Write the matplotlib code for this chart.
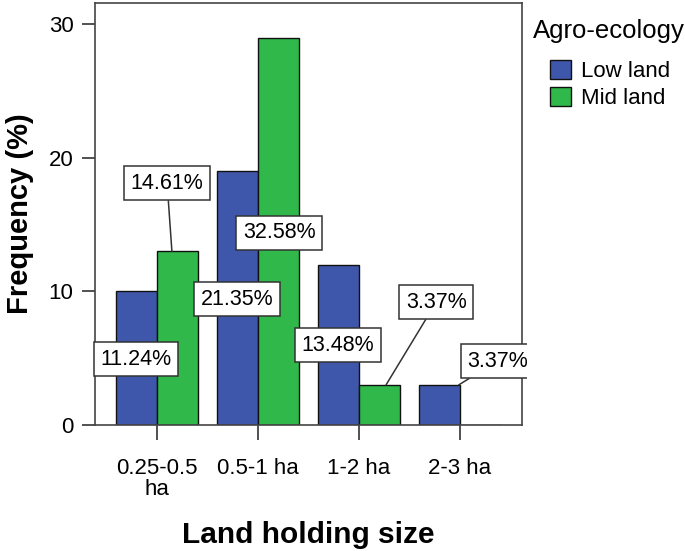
import matplotlib
matplotlib.use("Agg")
import matplotlib.pyplot as plt
import numpy as np
from matplotlib.transforms import Bbox, TransformedBbox

plt.rcParams['font.family'] = ['Liberation Sans', 'DejaVu Sans']

categories = ["0.25-0.5\nha", "0.5-1 ha", "1-2 ha", "2-3 ha"]
series_names = ["Low land", "Mid land"]
legend_title = "Agro-ecology"
low_land = [10, 19, 12, 3]
mid_land = [13, 29, 3, 0]
colors = ["#3f57aa", "#30b84a"]

# labels: (series index, category index, text, box x, box y, leader end x-offset or None)
labels = [
    (0, 0, "11.24%", -0.205, 4.94, None),
    (1, 0, "14.61%", 0.10, 18.1, -0.055),
    (0, 1, "21.35%", 0.79, 9.42, None),
    (1, 1, "32.58%", 1.21, 14.4, None),
    (0, 2, "13.48%", 1.79, 5.98, None),
    (1, 2, "3.37%", 2.765, 9.2, 0.065),
    (0, 3, "3.37%", 3.37, 4.79, 0.19),
]

W, H = 685, 551
fig = plt.figure(figsize=(W / 100, H / 100), dpi=100)
ax = fig.add_axes([95 / W, 1 - 425 / H, (522 - 95) / W, (425 - 3) / H])

x = np.arange(len(categories))
bw = 0.405
values = [low_land, mid_land]
for i, (vals, c, name) in enumerate(zip(values, colors, series_names)):
    ax.bar(x + (i - 0.5) * bw, vals, width=bw, color=c, edgecolor="#111111",
           linewidth=1.0, label=name, zorder=2)

ax.set_xlim(-0.614, 3.614)
ax.set_ylim(0, 31.6)
ax.set_yticks([0, 10, 20, 30])
ax.set_xticks(x)
ax.set_xticklabels(categories, fontsize=16, linespacing=0.95)
ax.tick_params(axis="y", labelsize=16, length=9.5, width=1.2, pad=6, color="#333333")
ax.tick_params(axis="x", length=11, width=1.2, pad=13, color="#333333")
for s in ax.spines.values():
    s.set_linewidth(1.2)
    s.set_color("#444444")

ax.set_xlabel("Land holding size", fontsize=21.5, fontweight="bold")
ax.xaxis.label.set_va("center")
ax.xaxis.set_label_coords((308 - 95) / 427, (425 - 535) / 422)
ax.set_ylabel("Frequency (%)", fontsize=21, fontweight="bold")
ax.yaxis.label.set_va("center")
ax.yaxis.set_label_coords((20 - 95) / 427, 0.5)

clip = TransformedBbox(Bbox.from_extents(0, 0, 527 / W, 1), fig.transFigure)
box_style = dict(boxstyle="square,pad=0.3", fc="white", ec="#333333", lw=1.1)
for si, ci, txt, bx, by, off in labels:
    vals = values[si]
    bar_x = x[ci] + (si - 0.5) * bw
    if off is None:
        t = ax.text(bx, by, txt, fontsize=15.5, ha="center", va="center", zorder=4,
                    bbox=box_style)
    else:
        t = ax.annotate(txt, xy=(bar_x + off, vals[ci]), xytext=(bx, by),
                        fontsize=15.5, ha="center", va="center", zorder=4,
                        bbox=box_style,
                        arrowprops=dict(arrowstyle="-", color="#333333", lw=1.1,
                                        shrinkA=0, shrinkB=0))
    t.set_clip_on(True)
    t.set_clip_box(clip)

fig.text(533 / W, 1 - 31 / H, legend_title, fontsize=18.5, ha="left", va="center")
leg = ax.legend(loc="upper left", bbox_to_anchor=(550 / W, 1 - 60 / H),
                bbox_transform=fig.transFigure, frameon=False,
                fontsize=16, handlelength=0.95, handleheight=0.95,
                handletextpad=0.45, labelspacing=0.22, borderpad=0, borderaxespad=0)
for h in leg.legend_handles:
    h.set_edgecolor("#111111")

fig.savefig("out.png", dpi=100)
